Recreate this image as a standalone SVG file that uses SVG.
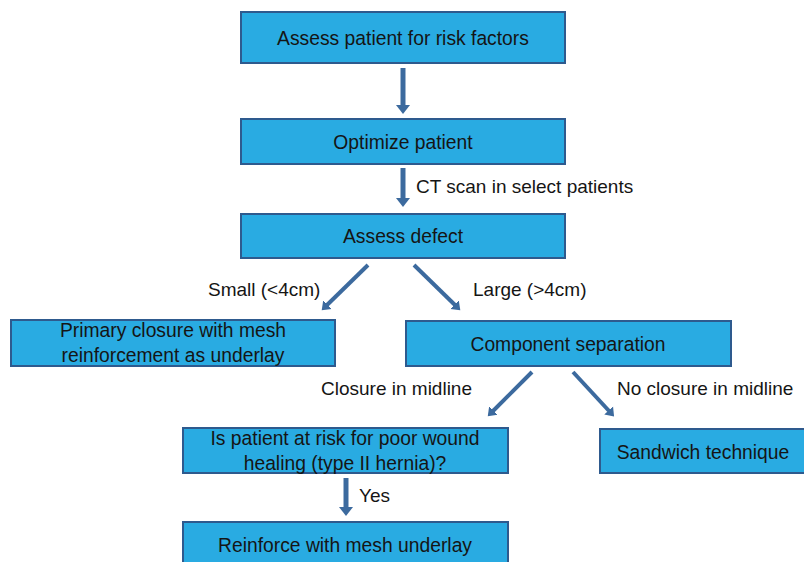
<svg xmlns="http://www.w3.org/2000/svg" width="804" height="562" viewBox="0 0 804 562">
<defs>
<style>
.box{fill:#29abe2;stroke:#2e5a8e;stroke-width:2}
.t{font-family:"Liberation Sans",Arial,sans-serif;font-size:19.3px;fill:#151515;text-anchor:middle}
.l{font-family:"Liberation Sans",Arial,sans-serif;font-size:19px;fill:#151515}
.a{stroke:#3c6a9e;stroke-width:5;fill:none;marker-end:url(#ah)}
.d{stroke:#3c6a9e;stroke-width:4;fill:none;marker-end:url(#ah2)}
</style>
<marker id="ah" markerUnits="userSpaceOnUse" markerWidth="16" markerHeight="16" refX="2" refY="8" orient="auto">
<path d="M0,1 L9,8 L0,15 Z" fill="#3c6a9e"/>
</marker>
<marker id="ah2" markerUnits="userSpaceOnUse" markerWidth="14" markerHeight="14" refX="2" refY="7" orient="auto">
<path d="M0,1 L8,7 L0,13 Z" fill="#3c6a9e"/>
</marker>
</defs>
<rect width="804" height="562" fill="#ffffff"/>
<g id="connectors">
<line class="a" x1="403" y1="68" x2="403" y2="107"/>
<line class="a" x1="403" y1="168" x2="403" y2="200"/>
<line class="d" x1="368" y1="265" x2="326" y2="306"/>
<line class="d" x1="414" y1="265" x2="456" y2="306"/>
<line class="d" x1="532" y1="372" x2="492" y2="412"/>
<line class="d" x1="573" y1="372" x2="610" y2="412"/>
<line class="a" x1="346" y1="478" x2="346" y2="509"/>
</g>
<g id="labels">
<text class="l" x="416" y="193">CT scan in select patients</text>
<text class="l" x="208" y="296">Small (&lt;4cm)</text>
<text class="l" x="473" y="296">Large (&gt;4cm)</text>
<text class="l" x="321" y="395">Closure in midline</text>
<text class="l" x="617" y="395">No closure in midline</text>
<text class="l" x="359" y="502">Yes</text>
</g>
<g id="n1"><rect class="box" x="241" y="12" width="324" height="51"/><text class="t" x="403" y="45">Assess patient for risk factors</text></g>
<g id="n2"><rect class="box" x="241" y="119" width="324" height="45"/><text class="t" x="403" y="149">Optimize patient</text></g>
<g id="n3"><rect class="box" x="241" y="214" width="324" height="44"/><text class="t" x="403" y="243">Assess defect</text></g>
<g id="n4"><rect class="box" x="11" y="320" width="324" height="46"/><text class="t" x="173" y="337">Primary closure with mesh</text><text class="t" x="173" y="362">reinforcement as underlay</text></g>
<g id="n5"><rect class="box" x="406" y="321" width="325" height="45"/><text class="t" x="568" y="351">Component separation</text></g>
<g id="n6"><rect class="box" x="183" y="428" width="325" height="45"/><text class="t" x="345" y="445">Is patient at risk for poor wound</text><text class="t" x="345" y="470">healing (type II hernia)?</text></g>
<g id="n7"><rect class="box" x="183" y="522" width="325" height="46"/><text class="t" x="345" y="552">Reinforce with mesh underlay</text></g>
<g id="n8"><rect class="box" x="600" y="429" width="210" height="44"/><text class="t" x="703" y="459">Sandwich technique</text></g>
</svg>
